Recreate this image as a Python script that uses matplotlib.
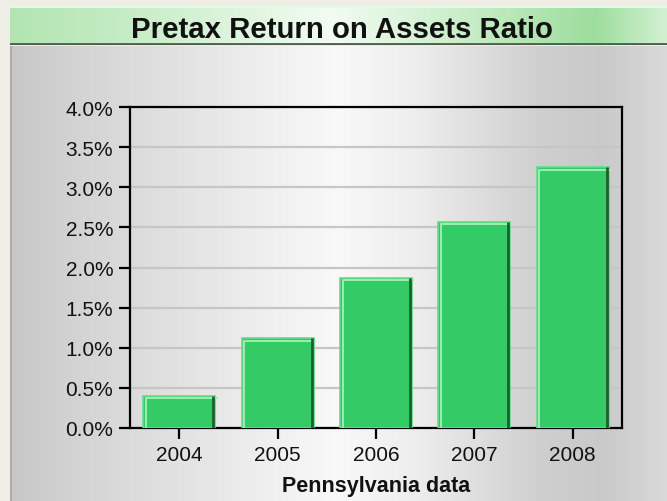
import numpy as np
import matplotlib
matplotlib.use("Agg")
import matplotlib.pyplot as plt
from matplotlib import transforms

# ---- data ----
years = ["2004", "2005", "2006", "2007", "2008"]
roa = [0.40, 1.12, 1.87, 2.57, 3.25]
yticks = [0.0, 0.5, 1.0, 1.5, 2.0, 2.5, 3.0, 3.5, 4.0]
title = "Pretax Return on Assets Ratio"
xlabel = "Pennsylvania data"

W, H = 667, 502
fig = plt.figure(figsize=(W / 100, H / 100), dpi=100, facecolor="#efeee6")
plt.rcParams['font.family'] = ['Liberation Sans', 'DejaVu Sans']

def hgrad(stops, n=667):
    xs = np.linspace(0, 1, n)
    px, pv = zip(*stops)
    cols = []
    for ch in range(3):
        cols.append(np.interp(xs, px, [v[ch] for v in pv]))
    return np.stack(cols, axis=-1)[None, :, :]

def g(v):
    return (v, v, v)

def hx(s):
    s = s.lstrip('#')
    return tuple(int(s[i:i + 2], 16) / 255 for i in (0, 2, 4))

# body panel gradient (grey)
body = fig.add_axes([10 / W, 0, 1 - 10 / W, (H - 47) / H], zorder=0)
body.imshow(hgrad([(0.0, g(0.78)), (0.08, g(0.82)), (0.37, g(0.93)), (0.50, g(0.975)),
                   (0.62, g(0.93)), (0.81, g(0.81)), (0.90, g(0.79)), (1.0, g(0.85))]),
            aspect='auto', extent=[0, 1, 0, 1])
body.set_axis_off()
body.plot([0.001, 0.001], [0, 1], color="#a8a8a8", lw=1.2, transform=body.transAxes)

# title bar gradient (green)
tb = fig.add_axes([10 / W, (H - 46) / H, 1 - 10 / W, 39 / H], zorder=1)
tb.imshow(hgrad([(0.0, hx('#b2e5b2')), (0.15, hx('#c2ebc2')), (0.49, hx('#f2fcf2')),
                 (0.75, hx('#bce9bc')), (0.89, hx('#9ddd9d')), (1.0, hx('#d2f1d2'))]),
          aspect='auto', extent=[0, 1, 0, 1])
tb.set_axis_off()
tb.plot([0, 1], [0.02, 0.02], color="#4a5e4a", lw=2.0, transform=tb.transAxes)
tb.plot([0, 1], [0.97, 0.97], color="#e6f8e6", lw=1.5, transform=tb.transAxes)
fig.text(342 / W, 1 - 38 / H, title, ha='center', va='baseline',
         fontsize=21.2, fontweight='bold', color='#111111')

# main plot axes
ax = fig.add_axes([130 / W, 1 - 429 / H, (622 - 130) / W, (429 - 108) / H], zorder=2)
ax.patch.set_alpha(0)
x = np.arange(len(years))
w = 0.73
ax.bar(x, roa, width=w, color='#34cb66', edgecolor='#62dd88', linewidth=1.2, zorder=3)

hl = transforms.offset_copy(ax.transData, fig=fig, x=2.5, y=-2.5, units='dots')
sh = transforms.offset_copy(ax.transData, fig=fig, x=-2.0, y=0, units='dots')
for xi, v in zip(x, roa):
    x0, x1 = xi - w / 2, xi + w / 2
    ax.plot([x0, x0, x1], [0, v, v], color='#9becb4', lw=1.4, transform=hl, zorder=4,
            solid_capstyle='butt')
    ax.plot([x1, x1], [v, 0], color='#1c5f30', lw=2.0, transform=sh, zorder=4,
            solid_capstyle='butt')

ax.set_xlim(-0.5, len(years) - 0.5)
ax.set_ylim(0, 4.0)
ax.set_yticks(yticks)
ax.set_yticklabels([f"{t:.1f}%" for t in yticks])
ax.set_xticks(x)
ax.set_xticklabels(years)
ax.yaxis.grid(True, color='#c6c6c6', lw=1.6, zorder=1)
ax.set_axisbelow(True)
for s in ax.spines.values():
    s.set_color('black')
    s.set_linewidth(1.6)
ax.tick_params(axis='both', direction='out', length=8, width=1.6, color='black',
               labelsize=15, labelcolor='#111111', pad=4)
ax.set_xlabel(xlabel, fontsize=15.5, fontweight='bold', color='#111111', labelpad=8)

fig.savefig("out.png", dpi=100, facecolor=fig.get_facecolor())
